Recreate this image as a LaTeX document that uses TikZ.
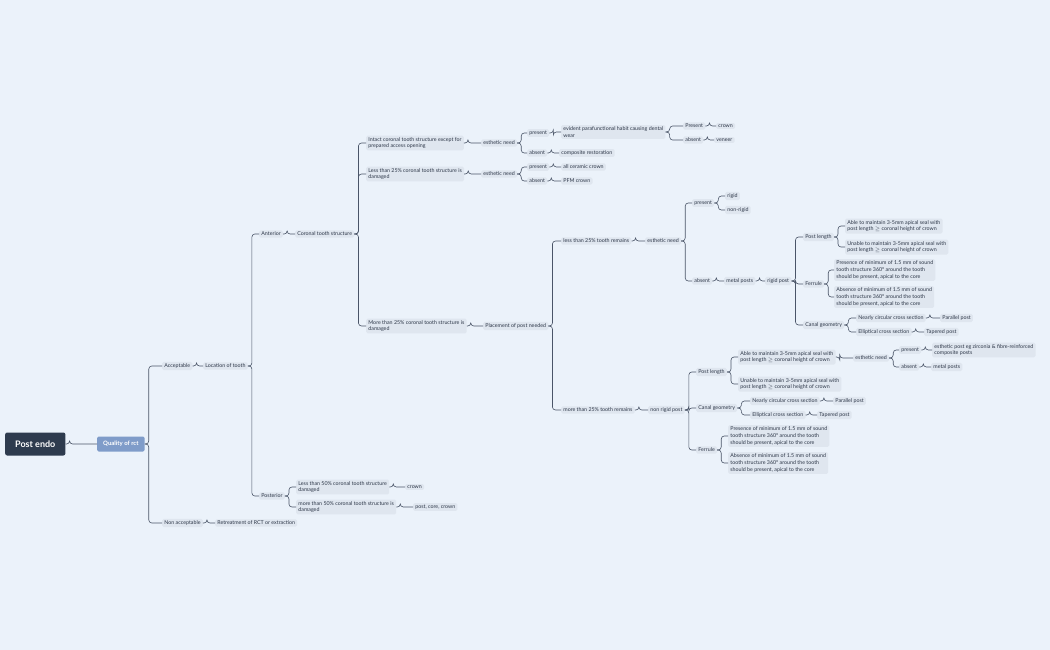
\documentclass[tikz,border=0pt]{standalone}
\usepackage{fontspec}
\setmainfont{Lato}
\begin{document}
\begin{tikzpicture}[x=1pt,y=-1pt,
 n/.style={anchor=west,fill=nodebg,rounded corners=1.5pt,inner xsep=2.2pt,inner ysep=1.6pt,align=left,font=\fontsize{5.3}{6.8}\selectfont,text=txt},
 lk/.style={draw=ln,line width=0.6pt,rounded corners=3pt}]
\definecolor{bg}{HTML}{EBF2FA}
\definecolor{nodebg}{HTML}{DFE6EF}
\definecolor{txt}{HTML}{2D3748}
\definecolor{ln}{HTML}{4A5568}
\definecolor{rootc}{HTML}{2E3B4E}
\definecolor{qc}{HTML}{7F9CC9}
\newcommand\lk[2]{\draw[lk] (#1.east) -- ++(4,0) |- (#2.west);}
\fill[bg] (0,0) rectangle (1050,650);
\useasboundingbox (0,0) rectangle (1050,650);
\node[anchor=west,fill=rootc,rounded corners=2pt,text=white,font=\fontsize{9}{10}\selectfont\bfseries,minimum height=23pt,inner xsep=10pt] (root) at (5,444) {Post endo};
\node[anchor=west,fill=qc,rounded corners=1.5pt,text=white,font=\fontsize{6}{7}\selectfont\bfseries,minimum height=15pt,inner xsep=6pt] (q) at (97,444) {Quality of rct};
\node[n] (acc) at (162,366) {Acceptable};
\node[n] (nacc) at (162,523) {Non acceptable};
\node[n] (loc) at (203,366) {Location of tooth};
\node[n] (ret) at (215,523) {Retreatment of RCT or extraction};
\node[n] (ant) at (259,234) {Anterior};
\node[n] (post) at (259,496) {Posterior};
\node[n] (cts) at (295,234) {Coronal tooth structure};
\node[n] (intact) at (366,143) {Intact coronal tooth structure except for\\prepared access opening};
\node[n] (lt25) at (366,174) {Less than 25\% coronal tooth structure is\\damaged};
\node[n] (mt25) at (366,326) {More than 25\% coronal tooth structure is\\damaged};
\node[n] (en1) at (481,143) {esthetic need};
\node[n] (en2) at (481,174) {esthetic need};
\node[n] (p1) at (527,133) {present};
\node[n] (a1) at (527,153) {absent};
\node[n] (evi) at (561,132) {evident parafunctional habit causing dental\\wear};
\node[n] (comp) at (559,153) {composite restoration};
\node[n] (P2) at (683,126) {Present};
\node[n] (cr1) at (716,126) {crown};
\node[n] (a2) at (683,140) {absent};
\node[n] (ven) at (714,140) {veneer};
\node[n] (p3) at (527,167) {present};
\node[n] (acc2) at (561,167) {all ceramic crown};
\node[n] (a3) at (527,181) {absent};
\node[n] (pfm) at (561,181) {PFM crown};
\node[n] (plc) at (483,326) {Placement of post needed};
\node[n] (l25) at (561,241) {less than 25\% tooth remains};
\node[n] (en3) at (645,241) {esthetic need};
\node[n] (p4) at (692,203) {present};
\node[n] (rig) at (725,196) {rigid};
\node[n] (nrig) at (725,210) {non-rigid};
\node[n] (a4) at (692,281) {absent};
\node[n] (mp1) at (724,281) {metal posts};
\node[n] (rp) at (765,281) {rigid post};
\node[n] (pl1) at (803,237) {Post length};
\node[n] (able1) at (845,226) {Able to maintain 3-5mm apical seal with\\post length $\geq$ coronal height of crown};
\node[n] (unab1) at (845,247) {Unable to maintain 3-5mm apical seal with\\post length $\geq$ coronal height of crown};
\node[n] (fer1) at (803,284) {Ferrule};
\node[n] (pres1) at (834,270) {Presence of minimum of 1.5 mm of sound\\tooth structure 360\textdegree\ around the tooth\\should be present, apical to the core};
\node[n] (abs1) at (834,297) {Absence of minimum of 1.5 mm of sound\\tooth structure 360\textdegree\ around the tooth\\should be present, apical to the core};
\node[n] (cg1) at (803,325) {Canal geometry};
\node[n] (nc1) at (856,318) {Nearly circular cross section};
\node[n] (pp1) at (940,318) {Parallel post};
\node[n] (el1) at (856,332) {Elliptical cross section};
\node[n] (tp1) at (924,332) {Tapered post};
\node[n] (m25) at (561,410) {more than 25\% tooth remains};
\node[n] (nrp) at (648,410) {non rigid post};
\node[n] (pl2) at (696,372) {Post length};
\node[n] (able2) at (738,357) {Able to maintain 3-5mm apical seal with\\post length $\geq$ coronal height of crown};
\node[n] (en4) at (853,358) {esthetic need};
\node[n] (p5) at (899,350) {present};
\node[n] (ep) at (932,350) {esthetic post eg zirconia \& fibre-reinforced\\composite posts};
\node[n] (a5) at (899,367) {absent};
\node[n] (mp2) at (931,367) {metal posts};
\node[n] (unab2) at (738,384) {Unable to maintain 3-5mm apical seal with\\post length $\geq$ coronal height of crown};
\node[n] (cg2) at (696,408) {Canal geometry};
\node[n] (nc2) at (750,401) {Nearly circular cross section};
\node[n] (pp2) at (833,401) {Parallel post};
\node[n] (el2) at (750,415) {Elliptical cross section};
\node[n] (tp2) at (817,415) {Tapered post};
\node[n] (fer2) at (696,450) {Ferrule};
\node[n] (pres2) at (728,436) {Presence of minimum of 1.5 mm of sound\\tooth structure 360\textdegree\ around the tooth\\should be present, apical to the core};
\node[n] (abs2) at (728,463) {Absence of minimum of 1.5 mm of sound\\tooth structure 360\textdegree\ around the tooth\\should be present, apical to the core};
\node[n] (l50) at (296,487) {Less than 50\% coronal tooth structure\\damaged};
\node[n] (cr2) at (405,487) {crown};
\node[n] (m50) at (296,507) {more than 50\% coronal tooth structure is\\damaged};
\node[n] (pcc) at (413,507) {post, core, crown};
\lk{root}{q}
\lk{q}{acc}\lk{q}{nacc}
\lk{acc}{loc}\lk{nacc}{ret}
\lk{loc}{ant}\lk{loc}{post}
\lk{ant}{cts}
\lk{cts}{intact}\lk{cts}{lt25}\lk{cts}{mt25}
\lk{intact}{en1}\lk{lt25}{en2}
\lk{en1}{p1}\lk{en1}{a1}
\lk{p1}{evi}\lk{a1}{comp}
\lk{evi}{P2}\lk{evi}{a2}\lk{P2}{cr1}\lk{a2}{ven}
\lk{en2}{p3}\lk{en2}{a3}\lk{p3}{acc2}\lk{a3}{pfm}
\lk{mt25}{plc}
\lk{plc}{l25}\lk{plc}{m25}
\lk{l25}{en3}\lk{en3}{p4}\lk{en3}{a4}
\lk{p4}{rig}\lk{p4}{nrig}
\lk{a4}{mp1}\lk{mp1}{rp}
\lk{rp}{pl1}\lk{rp}{fer1}\lk{rp}{cg1}
\lk{pl1}{able1}\lk{pl1}{unab1}
\lk{fer1}{pres1}\lk{fer1}{abs1}
\lk{cg1}{nc1}\lk{cg1}{el1}\lk{nc1}{pp1}\lk{el1}{tp1}
\lk{m25}{nrp}
\lk{nrp}{pl2}\lk{nrp}{cg2}\lk{nrp}{fer2}
\lk{pl2}{able2}\lk{pl2}{unab2}
\lk{able2}{en4}\lk{en4}{p5}\lk{en4}{a5}\lk{p5}{ep}\lk{a5}{mp2}
\lk{cg2}{nc2}\lk{cg2}{el2}\lk{nc2}{pp2}\lk{el2}{tp2}
\lk{fer2}{pres2}\lk{fer2}{abs2}
\lk{post}{l50}\lk{post}{m50}
\lk{l50}{cr2}\lk{m50}{pcc}
\end{tikzpicture}
\end{document}
